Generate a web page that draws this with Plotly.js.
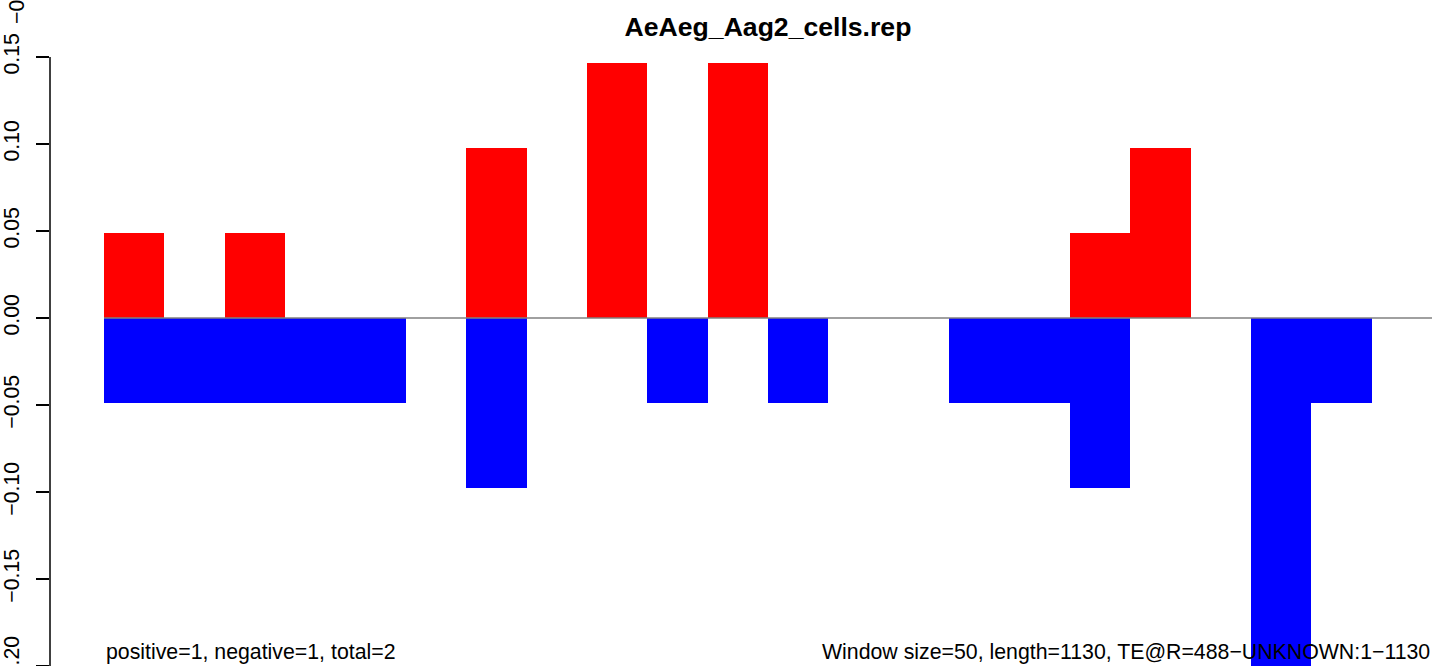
<!DOCTYPE html>
<html>
<head>
<meta charset="utf-8">
<script src="https://cdn.plot.ly/plotly-3.0.1.min.js"></script>
<style>html,body{margin:0;padding:0;background:#fff;}#chart{width:1439px;height:666px;}</style>
</head>
<body>
<div id="chart"></div>
<script>
// ---- data ----
var windowSize = 50;
var seqLength = 1130;
var windowStarts = [0,50,100,150,200,250,300,350,400,450,500,550,600,650,700,750,800,850,900,950,1000,1050];
var positiveVals = [0.0488,0,0.0488,0,0,0,0.0976,0,0.1463,0,0.1463,0,0,0,0,0,0.0488,0.0976,0,0,0,0];
var negativeVals = [-0.0488,-0.0488,-0.0488,-0.0488,-0.0488,0,-0.0976,0,0,-0.0488,0,-0.0488,0,0,-0.0488,-0.0488,-0.0976,0,0,-0.2439,-0.0488,0];
var yTickVals = [-0.20,-0.15,-0.10,-0.05,0.00,0.05,0.10,0.15];
var yTickText = ["\u22120.20","\u22120.15","\u22120.10","\u22120.05","0.00","0.05","0.10","0.15"];
var titleText = "AeAeg_Aag2_cells.rep";
var leftNote = "positive=1, negative=1, total=2";
var rightNote = "Window size=50, length=1130, TE@R=488\u2212UNKNOWN:1\u22121130";

var centers = windowStarts.map(function(s){ return s + windowSize/2; });
var xEnd = windowStarts[windowStarts.length-1] + windowSize;
var font = "Liberation Sans, Arial, Helvetica, sans-serif";

var traces = [
  {type:'bar', x:centers, y:positiveVals, width:windowSize, marker:{color:'#FF0000', line:{width:0}}, hoverinfo:'skip'},
  {type:'bar', x:centers, y:negativeVals, width:windowSize, marker:{color:'#0000FF', line:{width:0}}, hoverinfo:'skip'}
];

var layout = {
  width:1439, height:666,
  margin:{l:50, r:7, t:0, b:0, pad:0},
  paper_bgcolor:'#fff', plot_bgcolor:'#fff',
  showlegend:false,
  barmode:'overlay', bargap:0,
  font:{family:font, size:21, color:'#000'},
  title:{text:'<b>'+titleText+'</b>', font:{family:font, size:26.6, color:'#000'}, x:768/1439, xref:'container', xanchor:'center', y:1-27/666, yref:'container', yanchor:'middle'},
  xaxis:{range:[-44.7, xEnd], showgrid:false, zeroline:false, showline:false, showticklabels:false, ticks:''},
  yaxis:{range:[-0.2, 0.18276], showgrid:false, zeroline:false, showline:false,
         tickmode:'array', tickvals:yTickVals, ticktext:yTickText, ticks:'outside', ticklen:13, tickwidth:1.5, tickcolor:'#000',
         tickangle:-90, tickfont:{family:font, size:21.3, color:'#000'}, ticklabelstandoff:8, ticklabeloverflow:'allow'},
  shapes:[
    {type:'line', xref:'paper', yref:'y', x0:0, x1:0, y0:yTickVals[0], y1:yTickVals[yTickVals.length-1], line:{color:'#000', width:1.5}},
    {type:'line', xref:'x', yref:'y', x0:windowStarts[0], x1:xEnd, y0:0, y1:0, line:{color:'#808080', width:1.3}, layer:'above'}
  ],
  annotations:[
    {xref:'x', yref:'paper', x:windowStarts[0], y:14/666, xanchor:'left', yanchor:'middle', text:leftNote, showarrow:false, font:{family:font, size:21.3, color:'#000'}},
    {xref:'x', yref:'paper', x:xEnd, y:14/666, xanchor:'right', yanchor:'middle', text:rightNote, showarrow:false, font:{family:font, size:21.3, color:'#000'}},
    {xref:'paper', yref:'paper', x:(17-50)/1382, y:1-26/666, xanchor:'center', yanchor:'bottom', text:'\u22120.20', textangle:-90, showarrow:false, font:{family:font, size:21.3, color:'#000'}}
  ]
};

Plotly.newPlot('chart', traces, layout, {displayModeBar:false, staticPlot:true});
</script>
</body>
</html>
